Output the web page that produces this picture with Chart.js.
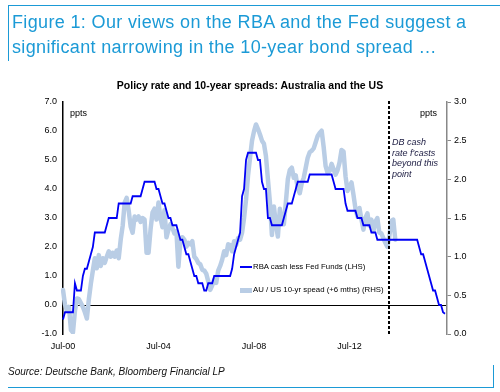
<!DOCTYPE html>
<html><head><meta charset="utf-8">
<script src="https://cdn.jsdelivr.net/npm/chart.js@4.4.1/dist/chart.umd.min.js"></script>
<style>
html,body{margin:0;padding:0;background:#fff;}
body{width:500px;height:392px;position:relative;overflow:hidden;font-family:"Liberation Sans",Arial,sans-serif;}
canvas{position:absolute;left:0;top:0;}
.abs{position:absolute;white-space:nowrap;z-index:2;}
</style></head><body>
<canvas id="c" width="500" height="392"></canvas>
<div class="abs" style="left:8px;top:5px;width:492px;height:1px;background:#1b9ad6"></div>
<div class="abs" style="left:8px;top:5px;width:1px;height:56px;background:#1b9ad6"></div>
<div class="abs" style="left:12px;top:10px;font-size:18px;letter-spacing:0.35px;line-height:25px;color:#1b9ad6">Figure 1: Our views on the RBA and the Fed suggest a<br>significant narrowing in the 10-year bond spread …</div>
<div class="abs" style="left:0;width:500px;text-align:center;top:79px;font-size:10.5px;line-height:12px;font-weight:bold;color:#000">Policy rate and 10-year spreads: Australia and the US</div>
<div class="abs" style="left:70px;top:108px;font-size:9px;line-height:11px;color:#000">ppts</div>
<div class="abs" style="left:420px;top:108px;font-size:9px;line-height:11px;color:#000">ppts</div>
<div class="abs" style="left:392px;top:137px;font-size:9px;line-height:10.5px;font-style:italic;color:#1a1a40">DB cash<br>rate f'casts<br>beyond this<br>point</div>
<div class="abs" style="left:240px;top:266px;width:12px;height:2px;background:#0000f5"></div>
<div class="abs" style="left:253px;top:262px;font-size:7.8px;line-height:10px;color:#000">RBA cash less Fed Funds (LHS)</div>
<div class="abs" style="left:240px;top:288px;width:12px;height:4.5px;background:#b9cde5"></div>
<div class="abs" style="left:253px;top:285px;font-size:7.8px;line-height:10px;color:#000">AU / US 10-yr spead (+6 mths) (RHS)</div>
<div class="abs" style="left:8px;top:366px;font-size:10px;line-height:12px;font-style:italic;color:#111">Source: Deutsche Bank, Bloomberg Financial LP</div>
<div class="abs" style="left:8px;top:387px;width:486px;height:1px;background:#1b9ad6"></div>
<div class="abs" style="left:493px;top:365px;width:1px;height:23px;background:#1b9ad6"></div>
<script>
// Monthly categories Jul-00 .. Aug-16
const monthNames = ['Jan','Feb','Mar','Apr','May','Jun','Jul','Aug','Sep','Oct','Nov','Dec'];
const months = [];
for (let i = 0; i < 194; i++) {
  const mi = (6 + i) % 12, yr = 2000 + Math.floor((6 + i) / 12);
  months.push(monthNames[mi] + '-' + String(yr % 100).padStart(2, '0'));
}
const xTickLabels = ['Jul-00', 'Jul-04', 'Jul-08', 'Jul-12'];
const forecastStart = 'Mar-14';

// RBA cash rate less Fed funds (LHS, ppts), Jul-00 .. Jul-16
const rbaLessFed = [
  -0.5,-0.25,-0.25,-0.25,-0.25,-0.25,
  0.75,0.5,0.5,0.5,1.0,1.25,
  1.25,1.5,1.75,2.0,2.5,2.5,
  2.5,2.5,2.5,2.5,2.75,3.0,
  3.0,3.0,3.0,3.0,3.5,3.5,
  3.5,3.5,3.5,3.5,3.5,3.75,
  3.75,3.75,3.75,3.75,4.0,4.25,
  4.25,4.25,4.25,4.25,4.25,4.0,
  4.0,3.75,3.5,3.5,3.25,3.0,
  3.0,2.75,2.75,2.75,2.5,2.25,
  2.25,2.0,1.75,1.75,1.5,1.25,
  1.0,1.0,0.75,0.75,0.75,0.5,
  0.5,0.75,0.75,0.75,1.0,1.0,
  1.0,1.0,1.0,1.0,1.0,1.0,
  1.0,1.25,1.75,2.0,2.25,2.5,
  3.75,4.0,5.0,5.25,5.25,5.25,
  5.25,5.25,5.0,5.0,4.25,4.0,
  4.0,3.0,3.0,2.75,2.75,2.75,
  2.75,2.75,2.75,3.0,3.25,3.5,
  3.5,3.5,3.75,4.0,4.25,4.25,
  4.25,4.25,4.25,4.25,4.5,4.5,
  4.5,4.5,4.5,4.5,4.5,4.5,
  4.5,4.5,4.5,4.5,4.25,4.0,
  4.0,4.0,4.0,4.0,3.5,3.25,
  3.25,3.25,3.25,3.25,3.0,3.0,
  3.0,2.75,2.75,2.75,2.75,2.5,
  2.5,2.5,2.25,2.25,2.25,2.25,
  2.25,2.25,2.25,2.25,2.25,2.25,
  2.25,2.25,2.25,2.25,2.25,2.25,
  2.25,2.25,2.25,2.25,2.25,2.0,
  1.75,1.75,1.5,1.25,1.0,0.75,
  0.5,0.5,0.25,0.0,0.0,-0.25,
  -0.3
];

// AU / US 10-yr spread, shifted +6 months (RHS, ppts)
const spreadAUUS = [
  0.57,0.38,0.30,0.35,0.05,0.02,
  0.30,0.46,0.45,0.40,0.35,0.28,
  0.20,0.45,0.65,0.82,0.98,0.85,
  1.02,0.88,0.98,0.92,1.00,1.07,
  1.00,1.05,1.00,1.08,0.98,1.22,
  1.40,1.70,1.76,1.60,1.39,1.31,
  1.52,1.48,1.52,1.45,1.50,1.48,
  1.05,1.05,1.35,1.57,1.62,1.48,
  1.70,1.50,1.38,1.60,1.25,1.35,
  1.42,1.37,1.30,1.33,0.87,1.20,
  1.25,1.22,1.13,1.18,1.16,1.20,
  1.00,0.97,0.92,0.90,0.83,0.82,
  0.78,0.68,0.57,0.63,0.70,0.66,
  0.82,0.88,0.96,1.07,1.02,1.16,
  1.15,1.07,1.20,1.15,1.24,1.22,
  1.31,1.50,1.74,2.05,2.28,2.50,
  2.62,2.71,2.65,2.58,2.50,2.46,
  2.30,2.00,1.70,1.28,1.65,1.42,
  1.26,1.62,1.45,1.42,1.70,2.00,
  2.12,2.15,2.02,2.05,1.88,1.82,
  1.95,2.02,2.15,2.28,2.35,2.37,
  2.40,2.48,2.56,2.60,2.63,2.42,
  2.17,2.08,2.11,2.20,2.13,2.06,
  2.12,2.22,2.38,2.36,2.04,1.85,
  1.91,1.96,1.80,1.62,1.52,1.63,
  1.48,1.35,1.50,1.56,1.40,1.48,
  1.33,1.45,1.50,1.31,1.30,1.24,
  1.18,1.13,1.26,1.46,1.48,1.22
];

const forecastLine = {
  id: 'forecastLine',
  afterDatasetsDraw(chart) {
    const xs = chart.scales.x;
    const x = Math.round(xs.getPixelForValue(months.indexOf(forecastStart)));
    const { top, bottom } = chart.chartArea;
    const c = chart.ctx;
    c.save();
    c.strokeStyle = '#000';
    c.lineWidth = 2;
    c.setLineDash([3, 2]);
    c.beginPath();
    c.moveTo(x, top - 1);
    c.lineTo(x, bottom + 2);
    c.stroke();
    c.restore();
  }
};

new Chart(document.getElementById('c'), {
  type: 'line',
  data: {
    labels: months,
    datasets: [
      { label: 'AU / US 10-yr spead (+6 mths) (RHS)', data: spreadAUUS, yAxisID: 'yR',
        borderColor: '#b9cde5', borderWidth: 4.5, pointRadius: 0, tension: 0,
        borderJoinStyle: 'round', borderCapStyle: 'round', order: 2 },
      { label: 'RBA cash less Fed Funds (LHS)', data: rbaLessFed, yAxisID: 'yL',
        borderColor: '#0000f5', borderWidth: 1.8, pointRadius: 0, tension: 0, order: 1 }
    ]
  },
  options: {
    responsive: false, animation: false, devicePixelRatio: 1,
    layout: { padding: { top: 102, left: 0, right: 0, bottom: 0 } },
    plugins: { legend: { display: false }, tooltip: { enabled: false } },
    scales: {
      x: {
        type: 'category', offset: false,
        grid: { display: false, drawTicks: false }, border: { display: false },
        ticks: {
          autoSkip: false, maxRotation: 0, minRotation: 0, padding: 7,
          font: { size: 9, family: '"Liberation Sans", Arial' }, color: '#000',
          callback(v) { const l = this.getLabelForValue(v); return xTickLabels.includes(l) ? l : null; }
        },
        afterFit(s) { s.height = 58; }
      },
      yL: {
        position: 'left', min: -1, max: 7,
        ticks: { stepSize: 1, callback: v => Number(v).toFixed(1), padding: 6,
                 font: { size: 9, family: '"Liberation Sans", Arial' }, color: '#000' },
        grid: { drawOnChartArea: true, drawTicks: false, lineWidth: 1,
                color: c => (c.tick && c.tick.value === 0) ? '#000' : 'rgba(0,0,0,0)' },
        border: { display: true, color: '#000', width: 1.5 },
        afterFit(s) { s.width = 63; }
      },
      yR: {
        position: 'right', min: 0, max: 3,
        ticks: { stepSize: 0.5, callback: v => Number(v).toFixed(1), padding: 3,
                 font: { size: 9, family: '"Liberation Sans", Arial' }, color: '#000' },
        grid: { drawOnChartArea: false, drawTicks: true, tickLength: 4, color: '#888' },
        border: { display: true, color: '#888', width: 1.5 },
        afterFit(s) { s.width = 53; }
      }
    }
  },
  plugins: [forecastLine]
});
</script>
</body></html>
